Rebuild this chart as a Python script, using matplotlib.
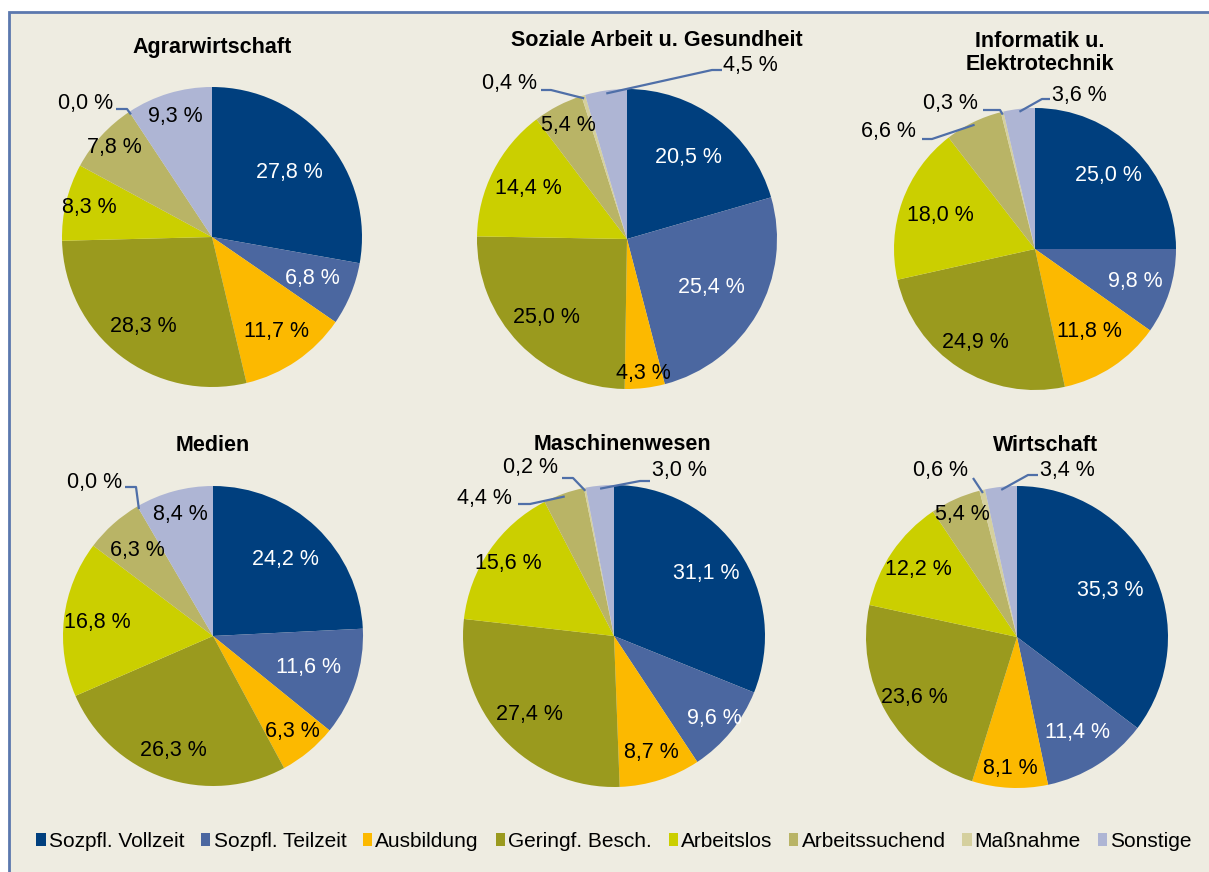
import matplotlib
matplotlib.use("Agg")
import matplotlib.pyplot as plt
from matplotlib.patches import Rectangle, Patch
import numpy as np

plt.rcParams['font.family'] = ['Liberation Sans', 'DejaVu Sans']

# ---------------- data ----------------
categories = ["Sozpfl. Vollzeit", "Sozpfl. Teilzeit", "Ausbildung", "Geringf. Besch.",
              "Arbeitslos", "Arbeitssuchend", "Maßnahme", "Sonstige"]
titles = ["Agrarwirtschaft", "Soziale Arbeit u. Gesundheit", "Informatik u.\nElektrotechnik",
          "Medien", "Maschinenwesen", "Wirtschaft"]
agrar = [27.8, 6.8, 11.7, 28.3, 8.3, 7.8, 0.0, 9.3]
soziale = [20.5, 25.4, 4.3, 25.0, 14.4, 5.4, 0.4, 4.5]
informatik = [25.0, 9.8, 11.8, 24.9, 18.0, 6.6, 0.3, 3.6]
medien = [24.2, 11.6, 6.3, 26.3, 16.8, 6.3, 0.0, 8.4]
maschinen = [31.1, 9.6, 8.7, 27.4, 15.6, 4.4, 0.2, 3.0]
wirtschaft = [35.3, 11.4, 8.1, 23.6, 12.2, 5.4, 0.6, 3.4]
series = [agrar, soziale, informatik, medien, maschinen, wirtschaft]

# ---------------- style / layout ----------------
colors = ["#003F7E", "#4B67A0", "#FCB900", "#9A9A1E", "#CBCF00", "#B9B466", "#D5D09E", "#AEB5D4"]
bg = "#EEECE1"
W, H = 1209, 872
# pie centers / radii in pixels
geom = [(212, 237, 150), (627, 239, 150), (1035, 249, 141),
        (213, 636, 150), (614, 636, 151), (1017, 637, 151)]
title_pos = [(212, 47), (657, 40), (1040, 53), (213, 445), (622, 444), (1046, 445)]
# radial placement of inside labels (fraction of radius)
label_dist = [
    [0.67, 0.72, 0.76, 0.75, 0.84, 0.88, None, 0.84],
    [0.68, 0.65, 0.90, 0.75, 0.74, 0.85, None, None],
    [0.74, 0.75, 0.70, 0.79, 0.71, None, None, None],
    [0.70, 0.67, 0.83, 0.81, 0.78, 0.76, None, 0.84],
    [0.74, 0.86, 0.81, 0.76, 0.85, None, None, None],
    [0.69, 0.75, 0.87, 0.79, 0.79, 0.89, None, None],
]
# outside labels: (pie, slice, text x, text y, ha, leader points near text)
outside = [
    (0, 6, 113, 103, 'right', [(116, 109), (127, 109)]),
    (1, 6, 537, 84, 'right', [(541, 90), (551, 90)]),
    (1, 7, 723, 65, 'left', [(722, 70), (712, 70)]),
    (2, 5, 916, 131, 'right', [(922, 139), (932, 139)]),
    (2, 6, 978, 104, 'right', [(983, 110), (1000, 110)]),
    (2, 7, 1052, 95, 'left', [(1050, 99), (1042, 99)]),
    (3, 6, 122, 482, 'right', [(125, 487), (136, 487)]),
    (4, 5, 512, 498, 'right', [(518, 504), (530, 504)]),
    (4, 6, 558, 467, 'right', [(562, 478), (573, 478)]),
    (4, 7, 652, 470, 'left', [(650, 481), (640, 481)]),
    (5, 6, 968, 470, 'right', [(973, 478)]),
    (5, 7, 1040, 470, 'left', [(1038, 475), (1028, 475)]),
]
lead_color = "#4F6FA8"
label_fs = 15.5
title_fs = 15.5
legend_fs = 15


def fmt(v):
    return f"{v:.1f} %".replace('.', ',')


fig = plt.figure(figsize=(W / 100, H / 100), dpi=100)
fig.patch.set_facecolor("white")
fig.add_artist(Rectangle((9 / W, -0.05), 1.1, 1 - 12 / H + 0.05, transform=fig.transFigure,
                         facecolor=bg, edgecolor="#5B78AE", linewidth=2, zorder=0))

mid_px = []
for i, (vals, (cx, cy, r)) in enumerate(zip(series, geom)):
    ax = fig.add_axes([(cx - r) / W, 1 - (cy + r) / H, 2 * r / W, 2 * r / H])
    ax.pie(vals, colors=colors, startangle=90, counterclock=False, radius=1,
           wedgeprops=dict(linewidth=0))
    ax.set_xlim(-1, 1)
    ax.set_ylim(-1, 1)
    ax.axis('off')
    ax.patch.set_visible(False)
    total = sum(vals)
    cum = np.cumsum([0] + vals[:-1])
    mids = [np.deg2rad(90 - 360 * (c + v / 2) / total) for c, v in zip(cum, vals)]
    mid_px.append(mids)

ov = fig.add_axes([0, 0, 1, 1])
ov.set_xlim(0, W)
ov.set_ylim(H, 0)
ov.axis('off')
ov.patch.set_visible(False)

for i, (vals, (cx, cy, r)) in enumerate(zip(series, geom)):
    for j, v in enumerate(vals):
        d = label_dist[i][j]
        if d is None:
            continue
        th = mid_px[i][j]
        ov.text(cx + r * d * np.cos(th), cy - r * d * np.sin(th), fmt(v),
                ha='center', va='center', fontsize=label_fs,
                color='white' if j < 2 else 'black')
    tx, ty = title_pos[i]
    ov.text(tx, ty, titles[i], ha='center', va='center', fontsize=title_fs,
            fontweight='bold', linespacing=1.1)

for (i, j, tx, ty, ha, pts) in outside:
    cx, cy, r = geom[i]
    th = mid_px[i][j]
    ex, ey = cx + r * 0.98 * np.cos(th), cy - r * 0.98 * np.sin(th)
    xs = [p[0] for p in pts] + [ex]
    ys = [p[1] for p in pts] + [ey]
    ov.plot(xs, ys, color=lead_color, lw=1.6, solid_capstyle='butt')
    ov.text(tx, ty, fmt(series[i][j]), ha=ha, va='center', fontsize=label_fs)

handles = [Patch(facecolor=c, edgecolor='none', label=l) for c, l in zip(colors, categories)]
fig.legend(handles=handles, loc='center', bbox_to_anchor=(614 / W, 1 - 841 / H), ncol=8,
           frameon=False, fontsize=legend_fs, handlelength=0.45, handleheight=0.6,
           handletextpad=0.15, columnspacing=0.8, borderaxespad=0)

fig.savefig("out.png", dpi=100, facecolor=fig.get_facecolor())
